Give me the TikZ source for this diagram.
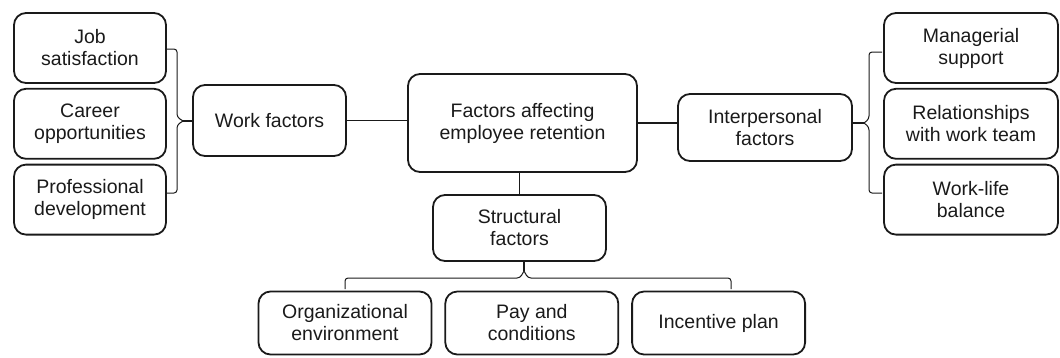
\documentclass[tikz,border=0pt]{standalone}
\usepackage{fontspec}
\setmainfont{Liberation Sans}
\usetikzlibrary{positioning}
\definecolor{Ink}{HTML}{1A1A1A}

\begin{document}
\begin{tikzpicture}[
  x=1pt, y=-1pt,
  every node/.style={font=\fontsize{19.5}{22}\selectfont, text=Ink},
  factor/.style={rounded corners=12pt, draw=Ink, line width=1.8pt, align=center, inner sep=0pt},
  sidebox/.style={factor, minimum width=152pt, minimum height=70pt},
  rightbox/.style={factor, minimum width=174pt, minimum height=70pt},
  lowbox/.style={factor, minimum width=173pt, minimum height=63pt},
  link/.style={draw=Ink, line width=1.3pt},
  bracket/.style={draw=Ink, line width=1pt, rounded corners=3pt}
]
\useasboundingbox (0,0) rectangle (1060,357);
% main box and the three groups
\node[factor, minimum width=229pt, minimum height=98pt] (core) at (522.5,123) {Factors affecting\\employee retention};
\node[factor, minimum width=153pt, minimum height=71pt] (work) at (269.5,120.5) {Work factors};
\node[factor, minimum width=174pt, minimum height=67pt] (inter) at (765,127.5) {Interpersonal\\factors};
\node[factor, minimum width=173pt, minimum height=66pt] (struct) at (519.5,228) {Structural\\factors};
% work factors
\node[sidebox] (job) at (90,48) {Job\\satisfaction};
\node[sidebox, below=4pt of job] (career) {Career\\opportunities};
\node[sidebox, below=4pt of career] (prof) {Professional\\development};
% interpersonal factors
\node[rightbox] (mgr) at (971,48) {Managerial\\support};
\node[rightbox, below=4pt of mgr] (team) {Relationships\\with work team};
\node[rightbox, below=4pt of team] (balance) {Work-life\\balance};
% structural factors
\node[lowbox] (org) at (345,323) {Organizational\\environment};
\node[lowbox, right=12pt of org] (pay) {Pay and\\conditions};
\node[lowbox, right=12pt of pay] (plan) {Incentive plan};
% links from the main box
\draw[link] (work.east) -- (work.east -| core.west);
\draw[link] (core.east) -- (core.east -| inter.west);
\draw[link] (struct.north) -- (struct.north |- core.south);
% brackets
\coordinate (ltip) at (183,121);
\draw[bracket] (167,49) -- (177,49) -- (177,117) -- (ltip);
\draw[bracket] (ltip) -- (177,125) -- (177,193) -- (167,193);
\draw[link] (ltip) -- (ltip -| work.west);
\coordinate (rtip) at (864,123);
\draw[bracket] (882,52) -- (869,52) -- (869,119) -- (rtip);
\draw[bracket] (rtip) -- (869,127) -- (869,193) -- (882,193);
\draw[link] (inter.east |- rtip) -- (rtip);
\coordinate (btip) at (524,271);
\draw[bracket] (345,289) -- (345,278) -- (520,278) -- (btip);
\draw[bracket] (btip) -- (528,278) -- (731,278) -- (731,289);
\draw[link] (btip |- struct.south) -- (btip);
\end{tikzpicture}
\end{document}
